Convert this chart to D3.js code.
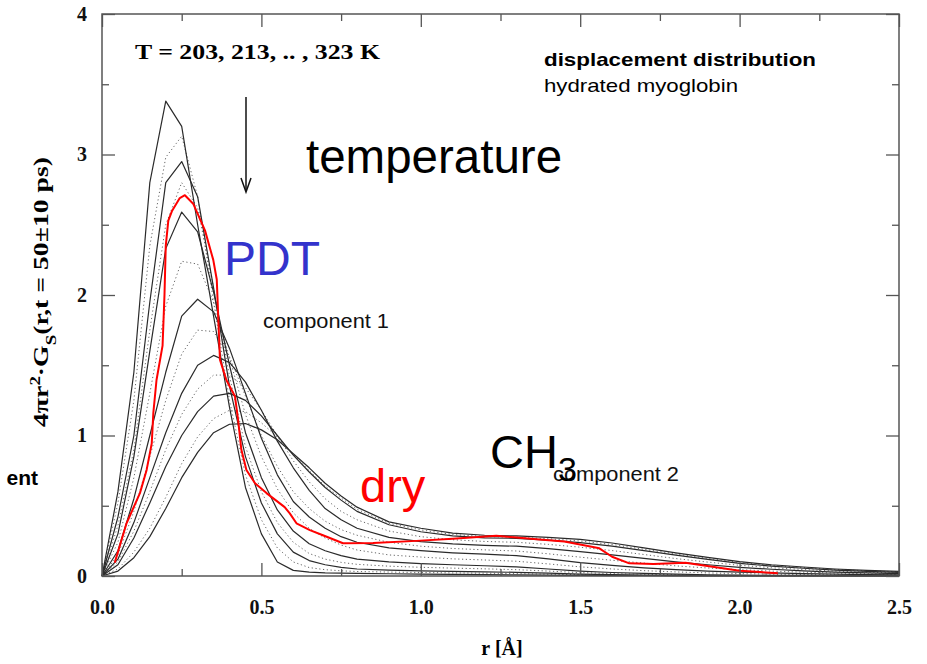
<!DOCTYPE html>
<html>
<head>
<meta charset="utf-8">
<script src="https://cdn.jsdelivr.net/npm/d3@7"></script>
<style>
  html, body { margin: 0; padding: 0; background: #fff; }
  svg { display: block; }
</style>
</head>
<body>
<svg id="chart" width="927" height="664"></svg>
<script>
// Self-part of the van Hove function, 4πr²·G_s(r, t = 50 ps), hydrated myoglobin
const r = [0, 0.05, 0.1, 0.15, 0.2, 0.25, 0.3, 0.35, 0.4, 0.45, 0.5, 0.55, 0.6, 0.65, 0.7, 0.75, 0.8,
           0.9, 1.0, 1.1, 1.2, 1.3, 1.4, 1.5, 1.6, 1.7, 1.8, 1.9, 2.0, 2.1, 2.2, 2.3, 2.4, 2.5];

// solid curves: 203, 223, 243, 263, 283, 303, 323 K
const T203 = [0, 0.6, 1.45, 2.8, 3.38, 3.2, 2.5, 1.85, 1.2, 0.63, 0.3, 0.1, 0.04, 0.028, 0.022, 0.02, 0.018,
              0.016, 0.014, 0.012, 0.01, 0.008, 0.006, 0.004, 0.003, 0.002, 0.001, 0, 0, 0, 0, 0, 0, 0];
const T223 = [0, 0.42, 1.0, 1.95, 2.8, 2.95, 2.7, 2.05, 1.35, 0.85, 0.52, 0.3, 0.17, 0.11, 0.08, 0.062, 0.05,
              0.042, 0.037, 0.033, 0.03, 0.026, 0.02, 0.014, 0.01, 0.007, 0.005, 0.003, 0.002, 0.001, 0.001, 0.001, 0, 0];
const T243 = [0, 0.3, 0.85, 1.6, 2.33, 2.59, 2.45, 2.02, 1.5, 1.02, 0.7, 0.47, 0.32, 0.23, 0.18, 0.145, 0.12,
              0.1, 0.088, 0.08, 0.073, 0.065, 0.05, 0.035, 0.025, 0.018, 0.013, 0.009, 0.007, 0.005, 0.004, 0.003, 0.002, 0.002];
const T263 = [0, 0.18, 0.55, 1.0, 1.45, 1.85, 1.97, 1.88, 1.62, 1.3, 0.98, 0.72, 0.53, 0.42, 0.34, 0.28, 0.24,
              0.2, 0.18, 0.165, 0.155, 0.145, 0.122, 0.095, 0.075, 0.058, 0.045, 0.035, 0.028, 0.022, 0.017, 0.013, 0.01, 0.008];
const T283 = [0, 0.12, 0.38, 0.7, 1.02, 1.3, 1.5, 1.57, 1.52, 1.38, 1.18, 0.96, 0.77, 0.61, 0.48, 0.4, 0.34,
              0.275, 0.245, 0.228, 0.218, 0.212, 0.195, 0.173, 0.15, 0.125, 0.1, 0.08, 0.062, 0.048, 0.037, 0.028, 0.022, 0.017];
const T303 = [0, 0.08, 0.27, 0.52, 0.78, 1.0, 1.17, 1.28, 1.3, 1.25, 1.14, 1.0, 0.86, 0.74, 0.63, 0.54, 0.46,
              0.365, 0.315, 0.285, 0.272, 0.268, 0.255, 0.237, 0.212, 0.18, 0.148, 0.118, 0.09, 0.07, 0.055, 0.042, 0.033, 0.026];
const T323 = [0, 0.035, 0.13, 0.28, 0.48, 0.7, 0.88, 1.02, 1.08, 1.085, 1.04, 0.97, 0.87, 0.77, 0.66, 0.57, 0.49,
              0.385, 0.34, 0.305, 0.29, 0.285, 0.275, 0.26, 0.235, 0.2, 0.165, 0.132, 0.102, 0.08, 0.064, 0.05, 0.04, 0.033];

// dotted curves: 213, 233, 253, 273, 293, 313 K
const T213 = [0, 0.52, 1.25, 2.35, 2.98, 3.13, 2.7, 1.95, 1.25, 0.72, 0.4, 0.2, 0.1, 0.06, 0.045, 0.037, 0.032,
              0.028, 0.025, 0.022, 0.02, 0.017, 0.013, 0.009, 0.006, 0.004, 0.003, 0.002, 0.001, 0.001, 0, 0, 0, 0];
const T233 = [0, 0.36, 0.9, 1.75, 2.5, 2.8, 2.62, 2.05, 1.42, 0.92, 0.6, 0.38, 0.24, 0.16, 0.12, 0.097, 0.083,
              0.07, 0.062, 0.056, 0.051, 0.045, 0.035, 0.024, 0.017, 0.012, 0.009, 0.006, 0.004, 0.003, 0.002, 0.002, 0.001, 0.001];
const T253 = [0, 0.24, 0.7, 1.3, 1.92, 2.24, 2.22, 1.95, 1.55, 1.15, 0.85, 0.62, 0.45, 0.34, 0.27, 0.22, 0.185,
              0.15, 0.135, 0.122, 0.114, 0.105, 0.086, 0.065, 0.05, 0.038, 0.029, 0.022, 0.017, 0.013, 0.01, 0.008, 0.006, 0.005];
const T273 = [0, 0.15, 0.46, 0.85, 1.25, 1.58, 1.75, 1.74, 1.56, 1.28, 1.0, 0.78, 0.6, 0.48, 0.39, 0.33, 0.29,
              0.24, 0.212, 0.196, 0.186, 0.178, 0.158, 0.134, 0.112, 0.092, 0.072, 0.057, 0.045, 0.035, 0.027, 0.021, 0.016, 0.012];
const T293 = [0, 0.1, 0.32, 0.6, 0.9, 1.15, 1.33, 1.43, 1.43, 1.34, 1.18, 1.0, 0.82, 0.67, 0.55, 0.46, 0.4,
              0.32, 0.28, 0.258, 0.246, 0.24, 0.225, 0.205, 0.181, 0.153, 0.124, 0.099, 0.076, 0.059, 0.046, 0.035, 0.027, 0.021];
const T313 = [0, 0.05, 0.17, 0.34, 0.56, 0.8, 0.99, 1.12, 1.18, 1.17, 1.09, 0.99, 0.865, 0.75, 0.64, 0.555, 0.475,
              0.375, 0.328, 0.295, 0.281, 0.276, 0.265, 0.249, 0.224, 0.19, 0.157, 0.125, 0.096, 0.075, 0.06, 0.046, 0.037, 0.03];

// dry myoglobin
const rDry = [0.04, 0.077, 0.119, 0.14, 0.156, 0.161, 0.171, 0.19, 0.196, 0.2, 0.208, 0.22, 0.244, 0.26, 0.286,
              0.323, 0.349, 0.36, 0.365, 0.37, 0.39, 0.417, 0.427, 0.437, 0.453, 0.48, 0.516, 0.573, 0.589, 0.61,
              0.652, 0.693, 0.756, 0.85, 0.986, 1.1, 1.237, 1.372, 1.45, 1.52, 1.56, 1.6, 1.654, 1.73, 1.83, 1.915, 2.0, 2.12];
const gDry = [0.095, 0.375, 0.59, 0.755, 0.944, 1.16, 1.395, 1.64, 2.0, 2.35, 2.53, 2.6, 2.69, 2.71, 2.65,
              2.46, 2.25, 2.11, 1.82, 1.54, 1.395, 1.28, 1.11, 0.9, 0.755, 0.66, 0.59, 0.49, 0.446, 0.375,
              0.327, 0.29, 0.233, 0.235, 0.25, 0.265, 0.287, 0.26, 0.245, 0.215, 0.197, 0.137, 0.09, 0.085, 0.095, 0.066, 0.038, 0.019];

const solidSeries = [T203, T223, T243, T263, T283, T303, T323];
const dottedSeries = [T213, T233, T253, T273, T293, T313];

const xMajor = [0, 0.5, 1.0, 1.5, 2.0, 2.5];
const xMinor = [0.25, 0.75, 1.25, 1.75, 2.25];
const yMajor = [0, 1, 2, 3, 4];
const yMinor = [0.5, 1.5, 2.5, 3.5];

const svg = d3.select("#chart");
const plotLeft = 102, plotRight = 899, plotTop = 14, plotBottom = 576;

const x = d3.scaleLinear().domain([0, 2.5]).range([plotLeft, plotRight]);
const y = d3.scaleLinear().domain([0, 4]).range([plotBottom, plotTop]);

const serif = "'Liberation Serif', 'Times New Roman', serif";
const sans = "'Liberation Sans', Arial, Helvetica, sans-serif";

// curves
const line = d3.line().x(d => x(d[0])).y(d => y(d[1]));
const plot = svg.append("g");

dottedSeries.forEach(s => {
  plot.append("path")
    .attr("d", line(r.map((v, i) => [v, s[i]])))
    .attr("fill", "none")
    .attr("stroke", "#666")
    .attr("stroke-width", 1)
    .attr("stroke-dasharray", "1.2,2.6");
});
solidSeries.forEach(s => {
  plot.append("path")
    .attr("d", line(r.map((v, i) => [v, s[i]])))
    .attr("fill", "none")
    .attr("stroke", "#2a2a2a")
    .attr("stroke-width", 1.2)
    .attr("stroke-linejoin", "round");
});
plot.append("path")
  .attr("d", line(rDry.map((v, i) => [v, gDry[i]])))
  .attr("fill", "none")
  .attr("stroke", "#ff0000")
  .attr("stroke-width", 2)
  .attr("stroke-linejoin", "round");

// axes: inward ticks on all four sides
function styleAxis(g) {
  g.select(".domain").remove();
  g.selectAll(".tick line").attr("stroke", "#555").attr("stroke-width", 1.3);
  g.selectAll(".tick text")
    .attr("fill", "#111")
    .style("font-family", serif)
    .style("font-weight", "bold")
    .style("font-size", "20px");
}
const fmtX = d3.format(".1f");

svg.append("g").attr("transform", `translate(0,${plotBottom})`)
  .call(d3.axisBottom(x).tickValues(xMajor).tickSize(-13).tickPadding(24).tickFormat(fmtX))
  .call(styleAxis);
svg.append("g").attr("transform", `translate(0,${plotBottom})`)
  .call(d3.axisBottom(x).tickValues(xMinor).tickSize(-7).tickFormat(""))
  .call(styleAxis);
svg.append("g").attr("transform", `translate(0,${plotTop})`)
  .call(d3.axisTop(x).tickValues(xMajor).tickSize(-13).tickFormat(""))
  .call(styleAxis);
svg.append("g").attr("transform", `translate(0,${plotTop})`)
  .call(d3.axisTop(x).tickValues(xMinor).tickSize(-7).tickFormat(""))
  .call(styleAxis);

svg.append("g").attr("transform", `translate(${plotLeft},0)`)
  .call(d3.axisLeft(y).tickValues(yMajor).tickSize(-13).tickPadding(15).tickFormat(d3.format("d")))
  .call(styleAxis);
svg.append("g").attr("transform", `translate(${plotLeft},0)`)
  .call(d3.axisLeft(y).tickValues(yMinor).tickSize(-7).tickFormat(""))
  .call(styleAxis);
svg.append("g").attr("transform", `translate(${plotRight},0)`)
  .call(d3.axisRight(y).tickValues(yMajor).tickSize(-13).tickFormat(""))
  .call(styleAxis);
svg.append("g").attr("transform", `translate(${plotRight},0)`)
  .call(d3.axisRight(y).tickValues(yMinor).tickSize(-7).tickFormat(""))
  .call(styleAxis);

// frame
svg.append("rect")
  .attr("x", plotLeft).attr("y", plotTop)
  .attr("width", plotRight - plotLeft).attr("height", plotBottom - plotTop)
  .attr("fill", "none").attr("stroke", "#555").attr("stroke-width", 1.5);

// axis titles
svg.append("text")
  .attr("x", 502).attr("y", 655)
  .attr("text-anchor", "middle")
  .style("font-family", serif).style("font-weight", "bold").style("font-size", "20px")
  .text("r [Å]");

const yTitle = svg.append("text")
  .attr("transform", "translate(48,292) rotate(-90)")
  .attr("text-anchor", "middle")
  .attr("textLength", 270).attr("lengthAdjust", "spacingAndGlyphs")
  .style("font-family", serif).style("font-weight", "bold").style("font-size", "22px");
yTitle.append("tspan").text("4πr");
yTitle.append("tspan").attr("baseline-shift", "super").style("font-size", "15px").text("2");
yTitle.append("tspan").text("·G");
yTitle.append("tspan").attr("baseline-shift", "sub").style("font-size", "15px").text("S");
yTitle.append("tspan").text("(r,t = 50±10 ps)");

// annotations
svg.append("text")
  .attr("x", 135).attr("y", 59)
  .attr("textLength", 245).attr("lengthAdjust", "spacingAndGlyphs")
  .style("font-family", serif).style("font-weight", "bold").style("font-size", "20px")
  .text("T = 203, 213, .. , 323 K");

svg.append("text")
  .attr("x", 544).attr("y", 66)
  .attr("textLength", 272).attr("lengthAdjust", "spacingAndGlyphs")
  .style("font-family", sans).style("font-weight", "bold").style("font-size", "19px")
  .text("displacement distribution");
svg.append("text")
  .attr("x", 544).attr("y", 92)
  .attr("textLength", 194).attr("lengthAdjust", "spacingAndGlyphs")
  .style("font-family", sans).style("font-size", "19px")
  .text("hydrated myoglobin");

// temperature arrow
svg.append("line")
  .attr("x1", 246).attr("y1", 97).attr("x2", 246).attr("y2", 191)
  .attr("stroke", "#111").attr("stroke-width", 1.5);
svg.append("path")
  .attr("d", "M241,178 L246,192 L251,178")
  .attr("fill", "none").attr("stroke", "#111").attr("stroke-width", 1.5);

svg.append("text")
  .attr("x", 306).attr("y", 173)
  .style("font-family", sans).style("font-size", "47.5px").attr("fill", "#000")
  .text("temperature");

svg.append("text")
  .attr("x", 224).attr("y", 275)
  .style("font-family", sans).style("font-size", "48px").attr("fill", "#3333cc")
  .text("PDT");

svg.append("text")
  .attr("x", 263).attr("y", 328)
  .style("font-family", sans).style("font-size", "20px").attr("fill", "#111")
  .attr("textLength", 126).attr("lengthAdjust", "spacingAndGlyphs")
  .text("component 1");

svg.append("text")
  .attr("x", 553).attr("y", 481)
  .style("font-family", sans).style("font-size", "20px").attr("fill", "#111")
  .attr("textLength", 126).attr("lengthAdjust", "spacingAndGlyphs")
  .text("component 2");

const ch = svg.append("text")
  .attr("x", 490).attr("y", 468)
  .style("font-family", sans).style("font-size", "47px").attr("fill", "#000");
ch.append("tspan").text("CH");
ch.append("tspan").attr("dy", 13).style("font-size", "34px").text("3");

svg.append("text")
  .attr("x", 360).attr("y", 502)
  .style("font-family", sans).style("font-size", "47px").attr("fill", "#ff0000")
  .text("dry");

svg.append("text")
  .attr("x", 38).attr("y", 485)
  .attr("text-anchor", "end")
  .style("font-family", sans).style("font-weight", "bold").style("font-size", "21px").attr("fill", "#000")
  .text("ent");
</script>
</body>
</html>
